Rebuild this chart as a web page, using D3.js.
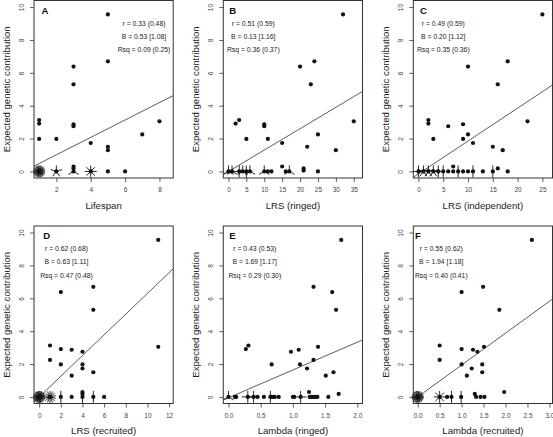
<!DOCTYPE html>
<html><head><meta charset="utf-8">
<script src="https://cdn.jsdelivr.net/npm/d3@7"></script>
<style>
body{margin:0;background:#fff}
svg{display:block;font-family:"Liberation Sans",Arial,Helvetica,sans-serif}
</style>
</head><body>
<svg id="chart" width="553" height="437"></svg>
<script>
// ---------------- DATA ----------------
const yTicks = [0, 2, 4, 6, 8, 10];
const yLimits = [-0.4, 10.4];
const panelLetters = ["A", "B", "C", "D", "E", "F"];
const xTitles = ["Lifespan", "LRS (ringed)", "LRS (independent)", "LRS (recruited)", "Lambda (ringed)", "Lambda (recruited)"];
const yTitle = "Expected genetic contribution";
const rTexts   = ["r = 0.33 (0.48)", "r = 0.51 (0.59)", "r = 0.49 (0.59)", "r = 0.62 (0.68)", "r = 0.43 (0.53)", "r = 0.55 (0.62)"];
const bTexts   = ["B = 0.53 [1.08]", "B = 0.13 [1.16]", "B = 0.20 [1.12]", "B = 0.63 [1.11]", "B = 1.69 [1.17]", "B = 1.94 [1.18]"];
const rsqTexts = ["Rsq = 0.09 (0.25)", "Rsq = 0.36 (0.37)", "Rsq = 0.35 (0.36)", "Rsq = 0.47 (0.48)", "Rsq = 0.29 (0.30)", "Rsq = 0.40 (0.41)"];

// x-axis limits and tick labels
const xLimits = [[0.7, 8.8], [-1.44, 37.44], [-1.04, 27.04], [-0.48, 12.38], [-0.08, 2.08], [-0.1, 3.07]];
const xTicksA = [2, 4, 6, 8];
const xTicksB = [0, 5, 10, 15, 20, 25, 30, 35];
const xTicksC = [0, 5, 10, 15, 20, 25];
const xTicksD = [0, 2, 4, 6, 8, 10, 12];
const xTicksE = [0.0, 0.5, 1.0, 1.5, 2.0];
const xTicksF = [0.0, 0.5, 1.0, 1.5, 2.0, 2.5, 3.0];
const xTickDecimals = [0, 0, 0, 0, 1, 1];

// regression lines
const intercepts = [-0.05, 0.0, -0.15, 0.0, -0.05, 0.0];
const slopes     = [0.53, 0.13, 0.20, 0.63, 1.69, 1.94];

// individual (non-stacked) points: expected genetic contribution vs predictor
const contribA = [9.55, 6.70, 6.38, 5.30, 3.13, 3.05, 2.91, 2.87, 2.75, 2.25, 1.98, 1.98, 1.73, 1.50, 1.29, 0.30, 0.18];
const lifespanA = [5, 5, 3, 3, 1, 8, 1, 3, 3, 7, 1, 2, 4, 5, 5, 3, 3];
const contribB = [9.55, 6.70, 6.38, 5.30, 3.13, 3.05, 2.91, 2.87, 2.75, 2.25, 1.98, 1.98, 1.73, 1.50, 1.29, 0.30, 0.18, 0.05];
const lrsRingedB = [32, 24, 20, 23, 3, 35, 2, 10, 10, 25, 5, 11, 15, 22, 30, 15, 21, 21];
const contribC = [9.55, 6.70, 6.38, 5.30, 3.13, 3.05, 2.91, 2.87, 2.75, 2.25, 1.98, 1.98, 1.73, 1.50, 1.29, 0.30, 0.18];
const lrsIndepC = [25, 18, 10, 16, 2, 22, 2, 9, 6, 10, 3, 9, 11, 15, 17, 7, 16];
const contribD = [9.55, 6.70, 6.38, 5.30, 3.13, 3.05, 2.91, 2.87, 2.75, 2.25, 1.98, 1.98, 1.73, 1.50, 1.29, 0.30, 0.18];
const lrsRecruitD = [11, 5, 2, 5, 1, 11, 2, 3, 4, 1, 2, 4, 4, 5, 3, 4, 4];
const contribE = [9.55, 6.70, 6.38, 5.30, 3.13, 3.05, 2.91, 2.87, 2.75, 2.25, 1.98, 1.98, 1.73, 1.50, 1.29, 0.30, 0.18];
const lambdaRingedE = [1.75, 1.32, 1.61, 1.67, 0.31, 1.39, 0.27, 1.09, 0.97, 1.32, 0.67, 1.11, 1.22, 1.63, 1.51, 1.25, 1.71];
const contribF = [9.55, 6.70, 6.38, 5.30, 3.13, 3.05, 2.91, 2.87, 2.75, 2.25, 1.98, 1.98, 1.73, 1.50, 1.29, 0.30, 0.18];
const lambdaRecruitF = [2.6, 1.49, 1.0, 1.86, 0.5, 1.51, 1.0, 1.26, 1.36, 0.5, 1.0, 1.47, 1.23, 1.47, 1.12, 1.97, 1.30];

// zero-contribution individuals, stacked as sunflowers: x value and count
const zeroXA = [1, 2, 3, 4, 5, 6];
const zeroNA = [30, 5, 3, 8, 1, 1];
const zeroXB = [0, 1, 3, 4, 5, 6, 10, 11, 12, 16, 17, 25];
const zeroNB = [3, 3, 4, 3, 4, 3, 3, 1, 1, 1, 3, 1];
const zeroXC = [0, 1, 2, 3, 4, 5, 6, 7, 8, 9, 10, 11, 13, 15, 18];
const zeroNC = [4, 5, 5, 5, 4, 2, 1, 1, 2, 1, 1, 2, 1, 2, 1];
const zeroXD = [0, 1, 2, 3, 4, 5, 6];
const zeroND = [35, 14, 2, 1, 2, 2, 1];
const zeroXE = [0, 0.10, 0.12, 0.30, 0.39, 0.45, 0.55, 0.65, 0.67, 0.70, 0.72, 0.78, 1.0, 1.02, 1.12, 1.26, 1.29, 1.32, 1.35, 1.38, 1.55];
const zeroNE = [3, 1, 1, 4, 4, 1, 1, 2, 1, 1, 1, 1, 1, 1, 4, 1, 1, 1, 1, 1, 1];
const zeroXF = [0, 0.5, 0.67, 0.77, 0.99, 1.33, 1.43, 1.52];
const zeroNF = [30, 8, 1, 2, 2, 1, 1, 1];

const xTicksAll = [xTicksA, xTicksB, xTicksC, xTicksD, xTicksE, xTicksF];
const pointsX = [lifespanA, lrsRingedB, lrsIndepC, lrsRecruitD, lambdaRingedE, lambdaRecruitF];
const pointsY = [contribA, contribB, contribC, contribD, contribE, contribF];
const zeroX = [zeroXA, zeroXB, zeroXC, zeroXD, zeroXE, zeroXF];
const zeroN = [zeroNA, zeroNB, zeroNC, zeroND, zeroNE, zeroNF];

// ---------------- LAYOUT ----------------
const colLeft = [34, 223.3, 413.3];
const rowTop = [0.5, 226];
const boxW = 139.2, boxH = 177.5;
const letterDx = [7.5, 6, 6.7, 9.3, 6, 1.7];
const statsDx = [110, 30, 30, 32.5, 31.5, 28];
const petalLen = 6;
const FONT = "Liberation Sans, Arial, Helvetica, sans-serif";

const svg = d3.select("#chart");

for (let i = 0; i < 6; i++) {
  const left = colLeft[i % 3], top = rowTop[Math.floor(i / 3)];
  const g = svg.append("g").attr("transform", `translate(${left},${top})`);
  const x = d3.scaleLinear().domain(xLimits[i]).range([0, boxW]);
  const y = d3.scaleLinear().domain(yLimits).range([boxH, 0]);

  const cid = "clip" + i;
  g.append("clipPath").attr("id", cid).append("rect").attr("width", boxW).attr("height", boxH);

  // axes
  const fmt = d3.format("." + xTickDecimals[i] + "f");
  const xa = g.append("g").attr("transform", `translate(0,${boxH})`)
    .call(d3.axisBottom(x).tickValues(xTicksAll[i]).tickSize(4).tickFormat(fmt))
    .attr("font-family", FONT);
  xa.select(".domain").remove();
  xa.selectAll("line").attr("stroke", "#333").attr("stroke-width", 0.8);
  xa.selectAll("text").attr("y", 14).attr("dy", 0).attr("font-size", 6.5).attr("fill", "#444");

  const ya = g.append("g")
    .call(d3.axisLeft(y).tickValues(yTicks).tickSize(4).tickFormat(d3.format("d")))
    .attr("font-family", FONT);
  ya.select(".domain").remove();
  ya.selectAll("line").attr("stroke", "#333").attr("stroke-width", 0.8);
  ya.selectAll("text").attr("transform", "rotate(-90)").attr("x", 0).attr("y", -10).attr("dy", 0)
    .attr("text-anchor", "middle").attr("font-size", 6.5).attr("fill", "#444");

  // axis titles
  g.append("text").attr("x", boxW / 2).attr("y", boxH + 30.5).attr("text-anchor", "middle")
    .attr("font-size", 9.6).attr("fill", "#222").text(xTitles[i]);
  g.append("text").attr("transform", `translate(-24.3,${boxH / 2}) rotate(-90)`)
    .attr("text-anchor", "middle").attr("font-size", 9.6).attr("fill", "#222").text(yTitle);

  // regression line
  const [x0, x1] = xLimits[i];
  g.append("line").attr("clip-path", `url(#${cid})`)
    .attr("x1", x(x0)).attr("y1", y(intercepts[i] + slopes[i] * x0))
    .attr("x2", x(x1)).attr("y2", y(intercepts[i] + slopes[i] * x1))
    .attr("stroke", "#333").attr("stroke-width", 0.8);

  // points
  g.append("g").selectAll("circle").data(d3.range(pointsX[i].length)).join("circle")
    .attr("cx", k => x(pointsX[i][k])).attr("cy", k => y(pointsY[i][k])).attr("r", 2.1).attr("fill", "#111");

  // sunflowers at zero
  const sf = g.append("g");
  zeroX[i].forEach((zx, k) => {
    const n = zeroN[i][k];
    const cx = x(zx), cy = y(0);
    sf.append("circle").attr("cx", cx).attr("cy", cy).attr("r", 2.1).attr("fill", "#111");
    if (n > 1) {
      for (let p = 1; p <= n; p++) {
        const deg = 2 * Math.PI * p / n;
        sf.append("line").attr("x1", cx).attr("y1", cy)
          .attr("x2", cx + petalLen * Math.sin(deg)).attr("y2", cy - petalLen * Math.cos(deg))
          .attr("stroke", "#111").attr("stroke-width", 0.9);
      }
    }
  });

  // box
  g.append("rect").attr("width", boxW).attr("height", boxH).attr("fill", "none")
    .attr("stroke", "#333").attr("stroke-width", 1);

  // letter
  g.append("text").attr("x", letterDx[i]).attr("y", 13.3).attr("font-size", 9.6)
    .attr("font-weight", "bold").attr("fill", "#111").text(panelLetters[i]);

  // stats
  [rTexts[i], bTexts[i], rsqTexts[i]].forEach((t, k) => {
    g.append("text").attr("x", statsDx[i]).attr("y", 25 + k * 13.3).attr("text-anchor", "middle")
      .attr("font-size", 6.8).attr("fill", "#222").text(t);
  });
}
</script>
</body></html>
